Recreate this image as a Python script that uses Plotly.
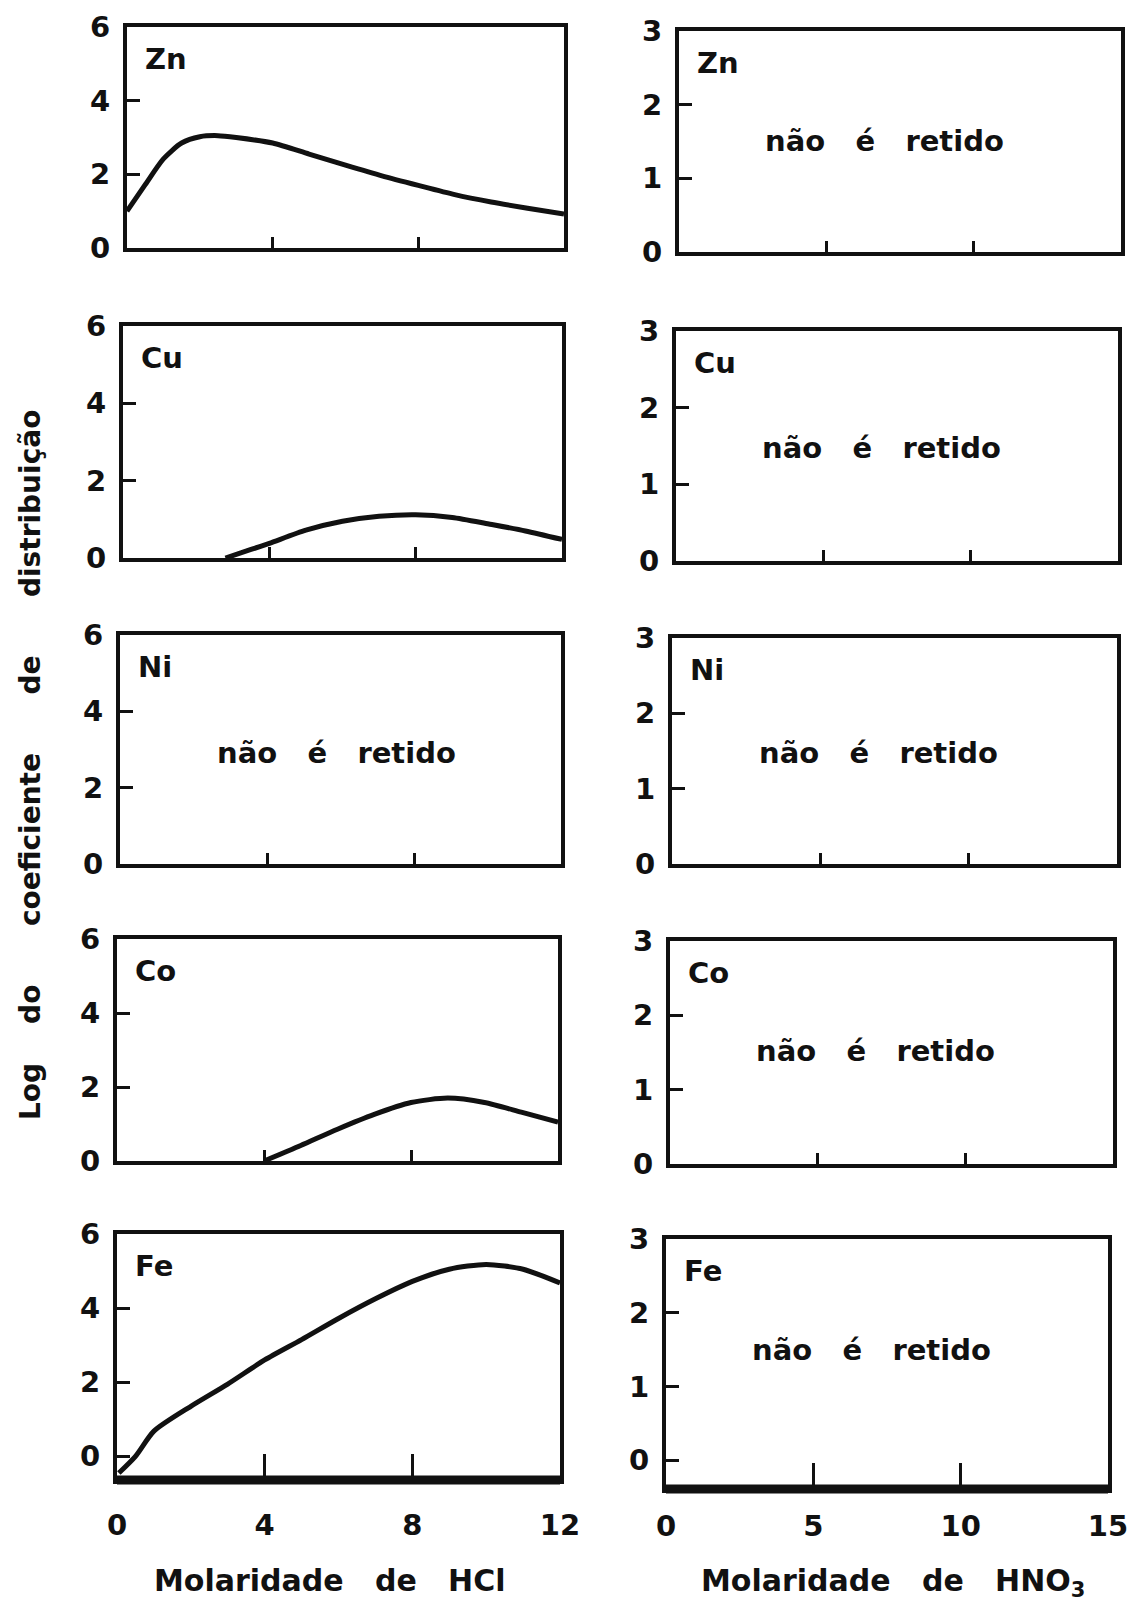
import plotly.graph_objects as go

# --- data -----------------------------------------------------------------
elements = ["Zn", "Cu", "Ni", "Co", "Fe"]

hcl_ticks = [0, 4, 8, 12]
hno3_ticks = [0, 5, 10, 15]
hcl_yticks = [0, 2, 4, 6]
hno3_yticks = [0, 1, 2, 3]

zn_hcl_x = [0, 0.5, 1, 1.5, 2, 2.5, 3, 4, 5, 6, 7, 8, 9, 10, 11, 12]
zn_hcl_y = [1.0, 1.72, 2.42, 2.85, 3.02, 3.05, 3.0, 2.85, 2.55, 2.25, 1.96, 1.7, 1.45, 1.25, 1.08, 0.92]

cu_hcl_x = [2.8, 3.5, 4, 5, 6, 7, 8, 9, 10, 11, 12]
cu_hcl_y = [0.0, 0.22, 0.38, 0.72, 0.95, 1.08, 1.12, 1.05, 0.88, 0.7, 0.48]

ni_hcl_x = []
ni_hcl_y = []

co_hcl_x = [4, 5, 6, 7, 8, 9, 10, 11, 12]
co_hcl_y = [0.0, 0.42, 0.86, 1.26, 1.58, 1.70, 1.58, 1.32, 1.05]

fe_hcl_x = [0.05, 0.5, 1, 2, 3, 4, 5, 6, 7, 8, 9, 10, 11, 12]
fe_hcl_y = [-0.45, 0.0, 0.68, 1.35, 1.95, 2.6, 3.15, 3.72, 4.25, 4.72, 5.05, 5.18, 5.05, 4.68]

hcl_curves = {
    "Zn": (zn_hcl_x, zn_hcl_y),
    "Cu": (cu_hcl_x, cu_hcl_y),
    "Ni": (ni_hcl_x, ni_hcl_y),
    "Co": (co_hcl_x, co_hcl_y),
    "Fe": (fe_hcl_x, fe_hcl_y),
}
# elements that are not retained: Ni in HCl, every element in HNO3
not_retained_hcl = ["Ni"]
not_retained_hno3 = ["Zn", "Cu", "Ni", "Co", "Fe"]

NB = "\u00a0"
note_text = f"não{NB * 3}é{NB * 3}retido"

# --- layout geometry (pixel boxes of each panel: left, right, top, bottom) ---
W, H = 1128, 1604
boxes_left = [
    (127, 564, 27, 248),
    (123, 562, 326, 558),
    (120, 561, 635, 864),
    (117, 558, 939, 1161),
    (117, 560, 1234, 1480),
]
boxes_right = [
    (679, 1121, 31, 252),
    (676, 1118, 331, 561),
    (672, 1117, 638, 864),
    (670, 1113, 941, 1164),
    (666, 1108, 1239, 1489),
]
# position of the "não é retido" note inside each panel (domain units)
note_y_left = {"Ni": 0.485}
note_y_right = {"Zn": 0.50, "Cu": 0.49, "Ni": 0.49, "Co": 0.507, "Fe": 0.556}
note_x_left = 0.49
note_x_right = 0.464

FONT = "DejaVu Sans"
BLACK = "#111111"

fig = go.Figure()


def dom(box):
    l, r, t, b = box
    return [l / W, r / W], [1 - b / H, 1 - t / H]


def axis_common():
    return dict(
        showline=True, linewidth=4, linecolor=BLACK, mirror=True,
        ticks="inside", tickwidth=3, tickcolor=BLACK,
        showgrid=False, zeroline=False, automargin=False,
        ticklabeloverflow="allow",
        tickfont=dict(family=FONT, size=29, color=BLACK, weight="bold"),
    )


annotations = []
shapes = []
idx = 0
for col in range(2):
    for row, el in enumerate(elements):
        idx += 1
        xa = "xaxis" if idx == 1 else f"xaxis{idx}"
        ya = "yaxis" if idx == 1 else f"yaxis{idx}"
        xr = "x" if idx == 1 else f"x{idx}"
        yr = "y" if idx == 1 else f"y{idx}"
        box = (boxes_left if col == 0 else boxes_right)[row]
        xd, yd = dom(box)
        bottom = row == len(elements) - 1

        if col == 0:
            xrange, xticks = [0, 12], hcl_ticks
            yticks = hcl_yticks
            yrange = [-0.64, 6] if bottom else [0, 6]
        else:
            xrange, xticks = [0, 15], hno3_ticks
            yticks = hno3_yticks
            yrange = [-0.39, 3] if bottom else [0, 3]

        xax = axis_common()
        xax.update(domain=xd, range=xrange, tickvals=xticks, anchor=yr,
                   ticklen=26 if bottom else 11,
                   showticklabels=bottom,
                   ticklabelstandoff=16 if col == 0 else 8)
        yax = axis_common()
        yax.update(domain=yd, range=yrange, tickvals=yticks, anchor=xr,
                   ticklen=13, ticklabelstandoff=7)
        fig.update_layout({xa: xax, ya: yax})

        if col == 0:
            cx, cy = hcl_curves[el]
        else:
            cx, cy = [], []
        # every panel gets a trace so that its axes are drawn, even when empty
        fig.add_trace(go.Scatter(
            x=cx if cx else [None], y=cy if cy else [None],
            mode="lines", xaxis=xr, yaxis=yr,
            line=dict(color=BLACK, width=5, shape="spline", smoothing=0.7),
            showlegend=False, hoverinfo="skip",
        ))

        # heavy baseline of the lowest row
        if bottom:
            shapes.append(dict(
                type="line", xref=f"{xr} domain", yref=f"{yr} domain",
                x0=0, x1=1, y0=0, y1=0,
                line=dict(color=BLACK, width=9),
            ))

        # element symbol in the upper-left corner of each panel
        annotations.append(dict(
            text=el, xref=f"{xr} domain", yref=f"{yr} domain",
            x=0, y=1, xshift=16, yshift=-32,
            xanchor="left", yanchor="middle", showarrow=False,
            font=dict(family=FONT, size=29, color=BLACK, weight="bold"),
        ))

        if col == 0 and el in not_retained_hcl:
            nx, ny = note_x_left, note_y_left[el]
        elif col == 1 and el in not_retained_hno3:
            nx, ny = note_x_right, note_y_right[el]
        else:
            nx = None
        if nx is not None:
            annotations.append(dict(
                text=note_text, xref=f"{xr} domain", yref=f"{yr} domain",
                x=nx, y=ny, xanchor="center", yanchor="middle",
                showarrow=False,
                font=dict(family=FONT, size=29, color=BLACK, weight="bold"),
            ))

# axis titles
title_font = dict(family=FONT, size=30, color=BLACK, weight="bold")
annotations.append(dict(
    text=f"Molaridade{NB * 3}de{NB * 3}HCl",
    xref="paper", yref="paper", x=330 / W, y=1 - 1580 / H,
    xanchor="center", yanchor="middle", showarrow=False, font=title_font,
))
annotations.append(dict(
    text=f"Molaridade{NB * 3}de{NB * 3}HNO<sub>3</sub>",
    xref="paper", yref="paper", x=893 / W, y=1 - 1582 / H,
    xanchor="center", yanchor="middle", showarrow=False, font=title_font,
))
annotations.append(dict(
    text=f"Log{NB * 4}do{NB * 6}coeficiente{NB * 6}de{NB * 6}distribuição",
    xref="paper", yref="paper", x=30 / W, y=1 - 765 / H,
    xanchor="center", yanchor="middle", textangle=-90, showarrow=False,
    font=dict(family=FONT, size=28, color=BLACK, weight="bold"),
))

fig.update_layout(
    width=W, height=H,
    margin=dict(l=0, r=0, t=0, b=0, autoexpand=False),
    paper_bgcolor="white", plot_bgcolor="white",
    annotations=annotations,
    shapes=shapes,
    showlegend=False,
)

fig.write_html(
    "out.html",
    config={"displayModeBar": False},
    post_script="document.body.style.margin='0px';",
)
